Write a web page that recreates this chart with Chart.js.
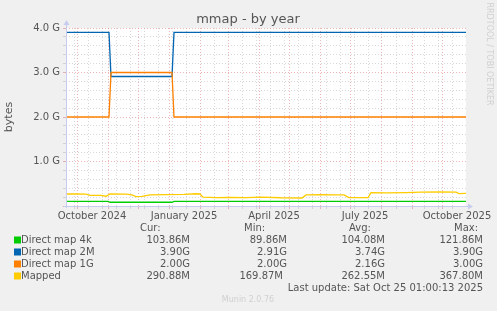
<!DOCTYPE html>
<html>
<head>
<meta charset="utf-8">
<script src="https://cdn.jsdelivr.net/npm/chart.js@4/dist/chart.umd.min.js"></script>
<style>
  html, body { margin: 0; padding: 0; background: #f0f0f0; }
  #c { display: block; }
</style>
</head>
<body>
<canvas id="c" width="497" height="311" style="width:497px;height:311px"></canvas>
<script>
// days counted from Sep 20 2024 (left edge of the graph), values in G
const map4kDays = [0, 42, 44, 106, 108, 400];
const map4kVals = [0.106, 0.106, 0.084, 0.084, 0.102, 0.102];

const map2MDays = [0, 43, 45, 106, 108, 400];
const map2MVals = [3.9, 3.9, 2.91, 2.91, 3.9, 3.9];

const map1GDays = [0, 43, 45, 106, 108, 400];
const map1GVals = [2.0, 2.0, 3.0, 3.0, 2.0, 2.0];

const mappedDays = [0, 10, 20, 24, 35, 40, 44, 60, 66, 70, 76, 84, 100, 118, 130, 134, 137, 150, 165, 180, 195, 215, 236, 240, 255, 270, 278, 283, 302, 305, 320, 340, 355, 375, 390, 393, 400];
const mappedVals = [0.27, 0.27, 0.265, 0.24, 0.24, 0.22, 0.27, 0.265, 0.25, 0.21, 0.215, 0.25, 0.255, 0.26, 0.275, 0.27, 0.2, 0.19, 0.195, 0.19, 0.2, 0.185, 0.18, 0.25, 0.255, 0.25, 0.25, 0.19, 0.19, 0.3, 0.295, 0.3, 0.31, 0.315, 0.31, 0.28, 0.285];

// x axis: month starts (red), two-week lines (grey), labels at mid month
const monthDays = [11, 42, 72, 103, 134, 162, 193, 223, 254, 284, 315, 346, 376];
const minorDays = [8, 22, 36, 50, 64, 78, 92, 106, 120, 148, 176, 190, 204, 218, 232, 246, 260, 274, 288, 302, 330, 358, 372, 386];
const labelDays = [26, 118, 208, 299, 391];
const labelTexts = ["October 2024", "January 2025", "April 2025", "July 2025", "October 2025"];

const legendNames = ["Direct map 4k", "Direct map 2M", "Direct map 1G", "Mapped"];
const legendColors = ["#00cc00", "#0066b3", "#ff8000", "#ffcc00"];
const curVals = ["103.86M", "3.90G", "2.00G", "290.88M"];
const minVals = ["89.86M", "2.91G", "2.00G", "169.87M"];
const avgVals = ["104.08M", "3.74G", "2.16G", "262.55M"];
const maxVals = ["121.86M", "3.90G", "3.00G", "367.80M"];

const FONT = "'DejaVu Sans', sans-serif";
const TEXT = "#555";
const RED = "rgba(225,130,130,0.6)";
const GREY = "rgba(180,180,180,0.5)";
const AXIS = "#c8cdf0";

function pts(xs, ys) {
  return xs.map((x, i) => ({ x, y: ys[i] }));
}

function near(v, list) {
  return list.some((d) => Math.abs(d - v) < 0.01);
}

const decorPlugin = {
  id: "decor",
  beforeDraw(chart) {
    const { ctx, chartArea: a } = chart;
    ctx.save();
    ctx.fillStyle = "#f0f0f0";
    ctx.fillRect(0, 0, chart.width, chart.height);
    ctx.fillStyle = "#ffffff";
    ctx.fillRect(a.left, a.top, a.right - a.left, a.bottom - a.top);
    ctx.restore();
  },
  afterDraw(chart) {
    const { ctx, chartArea: a } = chart;
    ctx.save();

    // axes + arrows
    ctx.strokeStyle = AXIS;
    ctx.lineWidth = 1;
    ctx.beginPath();
    ctx.moveTo(a.left + 0.5, a.bottom + 2);
    ctx.lineTo(a.left + 0.5, a.top - 4);
    ctx.moveTo(a.left - 2, a.bottom + 0.5);
    ctx.lineTo(a.right + 3, a.bottom + 0.5);
    ctx.stroke();
    ctx.fillStyle = AXIS;
    ctx.beginPath();
    ctx.moveTo(a.left - 2.5, a.top - 3);
    ctx.lineTo(a.left + 3.5, a.top - 3);
    ctx.lineTo(a.left + 0.5, a.top - 8);
    ctx.fill();
    ctx.beginPath();
    ctx.moveTo(a.right + 2, a.bottom - 2.5);
    ctx.lineTo(a.right + 2, a.bottom + 3.5);
    ctx.lineTo(a.right + 7, a.bottom + 0.5);
    ctx.fill();

    // title
    ctx.fillStyle = TEXT;
    ctx.font = "13px " + FONT;
    ctx.textAlign = "center";
    ctx.textBaseline = "middle";
    ctx.fillText("mmap - by year", 248, 20);

    // watermark
    ctx.fillStyle = "#d0d0d0";
    ctx.font = "8px " + FONT;
    ctx.fillText("Munin 2.0.76", 248, 300);
    ctx.save();
    ctx.translate(489, 54);
    ctx.rotate(Math.PI / 2);
    ctx.fillText("RRDTOOL / TOBI OETIKER", 0, 0);
    ctx.restore();

    // legend table
    ctx.font = "10px " + FONT;
    ctx.fillStyle = TEXT;
    ctx.textAlign = "left";
    ctx.fillText("Cur:", 140, 228);
    ctx.fillText("Min:", 244, 228);
    ctx.fillText("Avg:", 349, 228);
    ctx.fillText("Max:", 454, 228);
    const rowY = [240, 252, 264, 276];
    legendNames.forEach((name, i) => {
      const y = rowY[i];
      ctx.fillStyle = legendColors[i];
      ctx.fillRect(14, y - 3.5, 7, 7);
      ctx.fillStyle = TEXT;
      ctx.textAlign = "left";
      ctx.fillText(name, 21, y);
      ctx.textAlign = "right";
      ctx.fillText(curVals[i], 190, y);
      ctx.fillText(minVals[i], i === 3 ? 283 : 287, y);
      ctx.fillText(avgVals[i], 385, y);
      ctx.fillText(maxVals[i], 483, y);
    });
    ctx.textAlign = "right";
    ctx.fillText("Last update: Sat Oct 25 01:00:13 2025", 483, 288);
    ctx.restore();
  },
};

const line = (label, xs, ys, color) => ({
  label,
  data: pts(xs, ys),
  borderColor: color,
  backgroundColor: color,
  borderWidth: 1.3,
  pointRadius: 0,
  tension: 0,
  fill: false,
});

new Chart(document.getElementById("c"), {
  type: "line",
  data: {
    datasets: [
      line("Mapped", mappedDays, mappedVals, "#ffcc00"),
      line("Direct map 1G", map1GDays, map1GVals, "#ff8000"),
      line("Direct map 2M", map2MDays, map2MVals, "#0066b3"),
      line("Direct map 4k", map4kDays, map4kVals, "#00cc00"),
    ],
  },
  options: {
    responsive: false,
    animation: false,
    layout: { padding: { top: 28, left: 0, right: 31, bottom: 85 } },
    plugins: { legend: { display: false }, tooltip: { enabled: false } },
    scales: {
      x: {
        type: "linear",
        min: 0,
        max: 400,
        afterFit: (s) => { s.height = 20; },
        afterBuildTicks: (s) => {
          const all = [0, ...monthDays, ...minorDays, ...labelDays, 400];
          s.ticks = all.sort((p, q) => p - q).map((v) => ({ value: v }));
        },
        border: { display: false, dash: [1, 2] },
        grid: {
          lineWidth: 1,
          color: (c) => {
            const v = c.tick && c.tick.value;
            if (near(v, monthDays)) return RED;
            if (near(v, minorDays)) return GREY;
            return "rgba(0,0,0,0)";
          },
          tickColor: (c) => {
            const v = c.tick && c.tick.value;
            if (near(v, monthDays)) return RED;
            if (near(v, minorDays)) return GREY;
            return "rgba(0,0,0,0)";
          },
          tickLength: 3,
          tickBorderDash: [],
        },
        ticks: {
          autoSkip: false,
          maxRotation: 0,
          minRotation: 0,
          padding: 1,
          color: TEXT,
          font: { family: FONT, size: 10 },
          callback: (v) => {
            const i = labelDays.findIndex((d) => Math.abs(d - v) < 0.01);
            return i >= 0 ? labelTexts[i] : "";
          },
        },
      },
      y: {
        min: 0,
        max: 4,
        afterFit: (s) => { s.width = 66; },
        border: { display: false, dash: [1, 2] },
        grid: {
          lineWidth: 1,
          color: (c) => {
            const v = c.tick ? c.tick.value : 0;
            return Math.abs(v - Math.round(v)) < 1e-6 ? RED : GREY;
          },
          tickColor: (c) => {
            const v = c.tick ? c.tick.value : 0;
            return Math.abs(v - Math.round(v)) < 1e-6 ? RED : GREY;
          },
          tickLength: 3,
          tickBorderDash: [],
        },
        ticks: {
          stepSize: 0.2,
          autoSkip: false,
          padding: 3,
          color: TEXT,
          font: { family: FONT, size: 10 },
          callback: (v) => {
            const r = Math.round(v);
            return Math.abs(v - r) < 1e-6 && r > 0 ? r.toFixed(1) + " G" : "";
          },
        },
        title: {
          display: true,
          text: "bytes",
          color: TEXT,
          font: { family: FONT, size: 11 },
          padding: { top: 3, bottom: 0 },
        },
      },
    },
  },
  plugins: [decorPlugin],
});
</script>
</body>
</html>
